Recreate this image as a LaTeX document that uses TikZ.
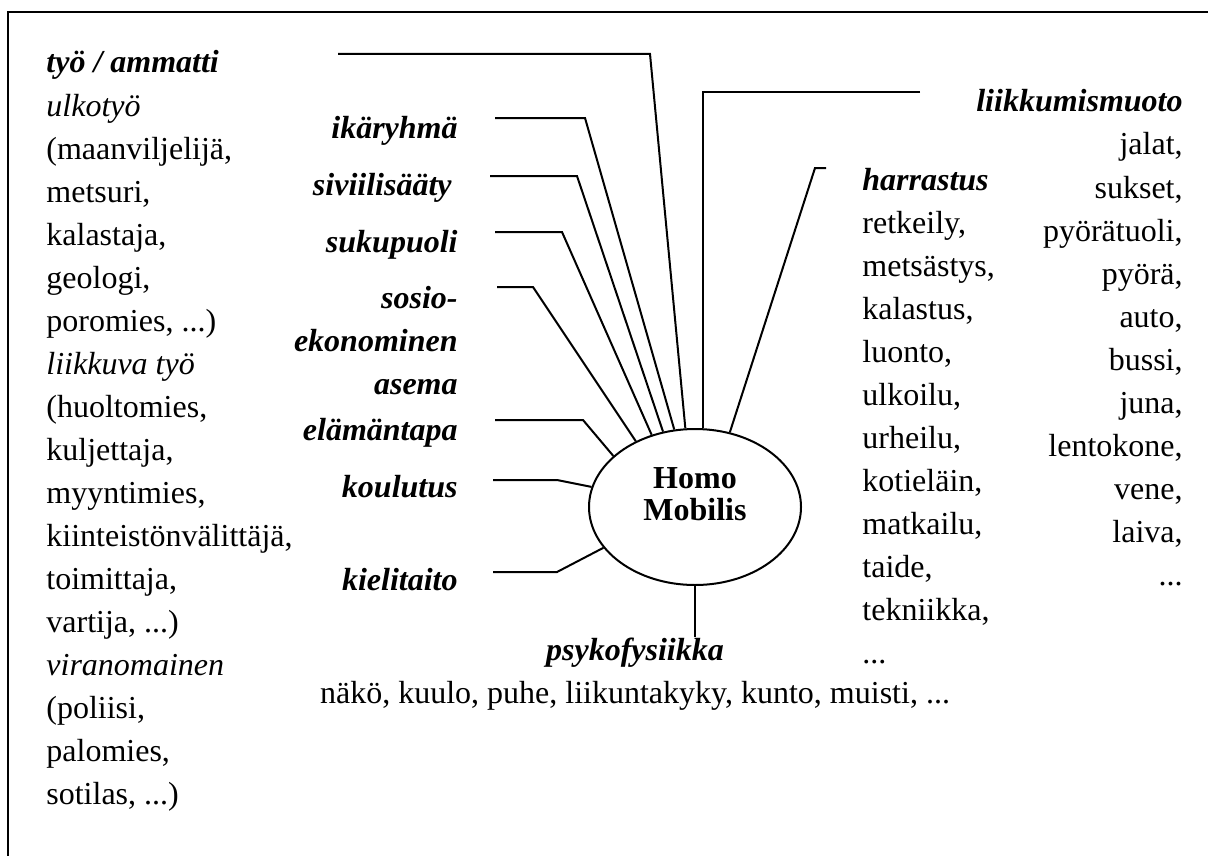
\documentclass[tikz,border=0pt]{standalone}
\usepackage{fontspec}
\setmainfont{Liberation Serif}
\usetikzlibrary{shapes.geometric}
\begin{document}
\begin{tikzpicture}[x=0.5pt,y=-0.5pt,
  txt/.style={inner sep=0pt, font=\fontsize{16}{18}\selectfont},
  head/.style={inner sep=0pt, font=\fontsize{16}{18}\selectfont\bfseries\itshape},
  sub/.style={inner sep=0pt, font=\fontsize{16}{18}\selectfont\itshape},
  core/.style={inner sep=0pt, font=\fontsize{16}{18}\selectfont\bfseries},
  conn/.style={line width=1pt},
  frame/.style={line width=1.2pt}]
\useasboundingbox (0,0) rectangle (1208,856);
% open frame: top and left edges
\draw[frame] (1208,12) -- (8,12) -- (8,856);

% central ellipse
\node[ellipse, draw, line width=1pt, minimum width=106pt, minimum height=78pt, inner sep=0pt] (hm) at (695,507) {};
\node[core, anchor=base] (homo) at (695,488) {Homo};
\node[core, anchor=base] (mobilis) at (695,520) {Mobilis};

% left column: occupation
\node[head, anchor=base west] (l1) at (46,73) {työ / ammatti};
\node[sub, anchor=base west] (l2) at (46,116) {ulkotyö};
\node[txt, anchor=base west] (l3) at (46,159) {(maanviljelijä,};
\node[txt, anchor=base west] (l4) at (46,202) {metsuri,};
\node[txt, anchor=base west] (l5) at (46,245) {kalastaja,};
\node[txt, anchor=base west] (l6) at (46,288) {geologi,};
\node[txt, anchor=base west] (l7) at (46,331) {poromies, ...)};
\node[sub, anchor=base west] (l8) at (46,374) {liikkuva työ};
\node[txt, anchor=base west] (l9) at (46,417) {(huoltomies,};
\node[txt, anchor=base west] (l10) at (46,460) {kuljettaja,};
\node[txt, anchor=base west] (l11) at (46,503) {myyntimies,};
\node[txt, anchor=base west] (l12) at (46,546) {kiinteistönvälittäjä,};
\node[txt, anchor=base west] (l13) at (46,589) {toimittaja,};
\node[txt, anchor=base west] (l14) at (46,632) {vartija, ...)};
\node[sub, anchor=base west] (l15) at (46,675) {viranomainen};
\node[txt, anchor=base west] (l16) at (46,718) {(poliisi,};
\node[txt, anchor=base west] (l17) at (46,761) {palomies,};
\node[txt, anchor=base west] (l18) at (46,804) {sotilas, ...)};

% middle labels
\node[head, anchor=base east] (ika) at (458,138) {ikäryhmä};
\node[head, anchor=base east] (sivi) at (452,195) {siviilisääty};
\node[head, anchor=base east] (suku) at (458,252) {sukupuoli};
\node[head, anchor=base east] (sos1) at (458,308) {sosio-};
\node[head, anchor=base east] (sos2) at (458,351) {ekonominen};
\node[head, anchor=base east] (sos3) at (458,394) {asema};
\node[head, anchor=base east] (elam) at (458,440) {elämäntapa};
\node[head, anchor=base east] (koul) at (458,497) {koulutus};
\node[head, anchor=base east] (kiel) at (458,590) {kielitaito};

% hobbies
\node[head, anchor=base west] (h0) at (862,190) {harrastus};
\node[txt, anchor=base west] (h1) at (862,233) {retkeily,};
\node[txt, anchor=base west] (h2) at (862,276) {metsästys,};
\node[txt, anchor=base west] (h3) at (862,319) {kalastus,};
\node[txt, anchor=base west] (h4) at (862,362) {luonto,};
\node[txt, anchor=base west] (h5) at (862,405) {ulkoilu,};
\node[txt, anchor=base west] (h6) at (862,448) {urheilu,};
\node[txt, anchor=base west] (h7) at (862,491) {kotieläin,};
\node[txt, anchor=base west] (h8) at (862,534) {matkailu,};
\node[txt, anchor=base west] (h9) at (862,577) {taide,};
\node[txt, anchor=base west] (h10) at (862,620) {tekniikka,};
\node[txt, anchor=base west] (h11) at (862,663) {...};

% means of movement
\node[head, anchor=base east] (m0) at (1183,112) {liikkumismuoto};
\node[txt, anchor=base east] (m1) at (1183,155) {jalat,};
\node[txt, anchor=base east] (m2) at (1183,198) {sukset,};
\node[txt, anchor=base east] (m3) at (1183,241) {pyörätuoli,};
\node[txt, anchor=base east] (m4) at (1183,284) {pyörä,};
\node[txt, anchor=base east] (m5) at (1183,327) {auto,};
\node[txt, anchor=base east] (m6) at (1183,370) {bussi,};
\node[txt, anchor=base east] (m7) at (1183,413) {juna,};
\node[txt, anchor=base east] (m8) at (1183,456) {lentokone,};
\node[txt, anchor=base east] (m9) at (1183,499) {vene,};
\node[txt, anchor=base east] (m10) at (1183,542) {laiva,};
\node[txt, anchor=base east] (m11) at (1183,585) {...};

% psychophysics
\node[head, anchor=base] (psy) at (635,660) {psykofysiikka};
\node[txt, anchor=base] (psy1) at (635,703) {näkö, kuulo, puhe, liikuntakyky, kunto, muisti, ...};

% connector ends and bends
\coordinate (tyoA) at (338,54);   \coordinate (tyoB) at (650,54);
\coordinate (ikaA) at (495,118);  \coordinate (ikaB) at (585,118);
\coordinate (siviA) at (490,176); \coordinate (siviB) at (577,176);
\coordinate (sukuA) at (495,232); \coordinate (sukuB) at (562,232);
\coordinate (sosA) at (497,287);  \coordinate (sosB) at (533,287);
\coordinate (elaA) at (495,420);  \coordinate (elaB) at (583,420);
\coordinate (kouA) at (493,480);  \coordinate (kouB) at (557,480);
\coordinate (kieA) at (493,572);  \coordinate (kieB) at (557,572);
\coordinate (liiA) at (920,92);   \coordinate (liiB) at (703,92);
\coordinate (harA) at (826,168);  \coordinate (harB) at (815,168);
\coordinate (psyA) at (695,637);

\draw[conn] (tyoA) -- (tyoB) -- (hm.97.9);
\draw[conn] (ikaA) -- (ikaB) -- (hm.105.8);
\draw[conn] (siviA) -- (siviB) -- (hm.113.7);
\draw[conn] (sukuA) -- (sukuB) -- (hm.121.1);
\draw[conn] (sosA) -- (sosB) -- (hm.132.7);
\draw[conn] (elaA) -- (elaB) -- (hm.148.1);
\draw[conn] (kouA) -- (kouB) -- (hm.169);
\draw[conn] (kieA) -- (kieB) -- (hm.204);
\draw[conn] (liiA) -- (liiB) -- (liiB |- hm.north);
\draw[conn] (harA) -- (harB) -- (hm.65.6);
\draw[conn] (hm.south) -- (psyA);
\end{tikzpicture}
\end{document}
